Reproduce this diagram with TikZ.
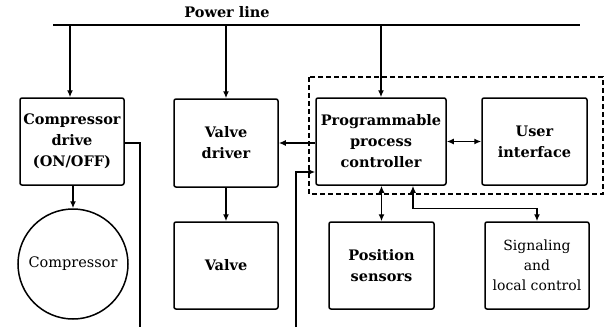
\documentclass[tikz,border=0pt]{standalone}
\usepackage{fontspec}
\setmainfont{DejaVu Serif}
\usetikzlibrary{arrows.meta, positioning, calc}

\tikzset{
  block/.style={draw, line width=1.5pt, rounded corners=2pt, align=center,
    inner sep=0pt, font=\fontsize{14.5}{21}\selectfont\bfseries},
  lightblock/.style={block, font=\fontsize{14}{20}\selectfont},
  link/.style={line width=1.4pt},
  arr/.style={link, -{Latex[length=7pt,width=6pt]}},
  twoarr/.style={link, {Latex[length=7pt,width=6pt]}-{Latex[length=7pt,width=6pt]}}
}

\begin{document}
\begin{tikzpicture}[x=1pt,y=-1pt]
  \useasboundingbox (0,0) rectangle (605,327);

  % power line
  \coordinate (pwrL) at (53,25);
  \coordinate (pwrR) at (580,25);
  \draw[line width=2.2pt] (pwrL) -- (pwrR);
  \node[font=\fontsize{14.5}{16}\selectfont\bfseries] (pwrlbl) at (227,12) {Power line};

  % controller group
  \draw[line width=1.2pt, dash pattern=on 5pt off 3pt] (309,77) rectangle (603,194);

  % blocks
  \node[block, minimum width=104pt, minimum height=87pt] (drive) at (72,141.5)
    {Compressor\\drive\\(ON/OFF)};
  \node[draw, line width=1.5pt, circle, minimum size=110pt, inner sep=0pt,
    font=\fontsize{14.5}{16}\selectfont] (comp) at (73,264) {Compressor};
  \node[block, minimum width=104pt, minimum height=88pt] (vdrv) at (226,143)
    {Valve\\driver};
  \node[block, minimum width=104pt, minimum height=87pt] (valve) at (226,265.5)
    {Valve};
  \node[block, minimum width=130pt, minimum height=87pt] (ppc) at (381,141.5)
    {Programmable\\process\\controller};
  \node[block, minimum width=105pt, minimum height=87pt] (ui) at (534.5,141.5)
    {User\\interface};
  \node[block, minimum width=105pt, minimum height=87pt] (pos) at (381.5,265.5)
    {Position\\sensors};
  \node[lightblock, minimum width=104pt, minimum height=87pt] (sig) at (537,265.5)
    {Signaling\\and\\local control};

  % supply drops
  \draw[arr] (70,25) -- (70,0 |- drive.north);
  \draw[arr] (vdrv.north |- pwrL) -- (vdrv.north);
  \draw[arr] (ppc.north |- pwrL) -- (ppc.north);

  % signal links
  \draw[arr] (drive.south -| comp.north) -- (comp.north);
  \draw[arr] (vdrv) -- (valve);
  \draw[arr] (ppc.west |- vdrv.east) -- (vdrv.east);
  \draw[twoarr] (ppc.east) -- (ppc.east -| ui.west);
  \draw[twoarr] (pos.north |- ppc.south) -- (pos.north);
  \draw[twoarr] ($(ppc.south)+(32,0)$) |- ++(0,23) -| (sig.north);

  % open ends
  \coordinate (cdout) at (140,327);
  \coordinate (fbin) at (296,327);
  \draw[link] (drive.east |- 0,143) -| (cdout);
  \draw[arr] (fbin) |- (ppc.west |- 0,172);
\end{tikzpicture}
\end{document}
